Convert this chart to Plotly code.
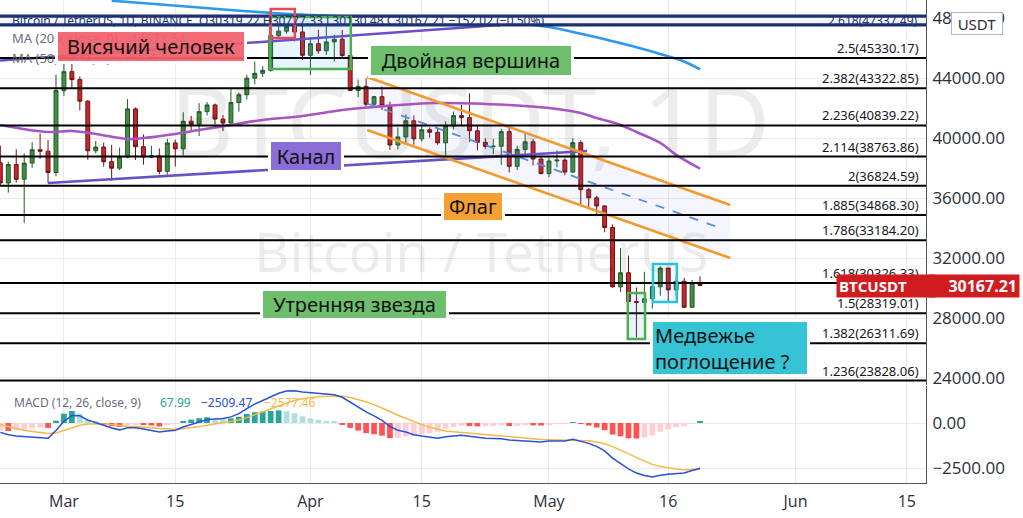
import plotly.graph_objects as go
from plotly.subplots import make_subplots
import pandas as pd

# ---------------- data ----------------
dates = pd.date_range("2022-02-21", "2022-05-20", freq="D")

open_p = [38350, 37000, 38230, 37250, 38328, 39219, 39116, 37699,
          43160, 44421, 43892, 42454, 39148, 39397, 38420, 37988, 38731, 41941,
          39422, 38730, 38807, 37777, 39671, 39280, 41115, 40917, 41757, 42201,
          41262, 41002, 42364, 42882, 43991, 44313, 44511, 46827, 47122, 47434, 47068,
          45511, 46284, 45811, 46407, 46581, 45498, 43171, 43444, 42252, 42754,
          42158, 39531, 40074, 41147, 39942, 40551, 40378, 39678, 40801, 41493,
          41358, 40480, 39709, 39441, 39450, 40426, 38112, 39235, 39742, 38596,
          37630, 38468, 38525, 37728, 39690, 36552, 36013, 35472, 34039, 30077,
          31017, 29103, 29030, 29287, 30086, 31329, 29874, 30445, 28715, 30319.22]
high_p = [39494, 38429, 39249, 38968, 39727, 40300, 39855, 44225,
          44949, 45400, 44101, 42527, 39794, 39693, 39547, 39362, 42594, 42039,
          40236, 39486, 39309, 39947, 39887, 41718, 41478, 42325, 42400, 42296,
          41544, 43361, 43025, 44220, 45094, 44792, 46999, 48190, 48096, 47700, 47600,
          46720, 47213, 47444, 46890, 47200, 45507, 43900, 43970, 42800, 43434,
          42414, 40699, 41561, 41500, 40870, 40709, 40595, 41116, 41760, 42199,
          42976, 40795, 39980, 39940, 40617, 40797, 39474, 40372, 39925, 38795,
          38675, 39167, 38651, 39980, 39845, 36675, 36146, 35510, 34244, 32659,
          32162, 30032, 31083, 30343, 31460, 31329, 30788, 30667, 30545, 30777.33]
low_p = [36800, 36350, 37037, 34322, 38014, 38600, 37000, 37450,
         42809, 43334, 41832, 38550, 38975, 38088, 37155, 37867, 38657, 38539,
         38224, 38660, 37578, 37555, 38098, 38828, 40500, 40135, 41499, 40911,
         40467, 40875, 41751, 42560, 43579, 44071, 44422, 46665, 46950, 46445, 45200,
         44200, 45620, 45530, 45118, 45353, 43121, 42727, 42107, 42125, 41868,
         39200, 39254, 39588, 39551, 39766, 40019, 39546, 38536, 40571, 40820,
         39751, 39177, 39285, 38929, 38200, 37702, 37869, 38881, 38175, 37578,
         37386, 38052, 37518, 37671, 35571, 35258, 34785, 33713, 30033, 29730,
         27785, 26700, 28751, 28630, 29480, 29087, 29450, 28654, 28693, 30130.48]
close_p = [37000, 38230, 37250, 38328, 39219, 39116, 37699, 43160,
           44421, 43892, 42454, 39148, 39397, 38420, 37988, 38731, 41941, 39422,
           38730, 38807, 37777, 39671, 39280, 41115, 40917, 41757, 42201, 41262,
           41002, 42364, 42882, 43991, 44313, 44511, 46827, 47122, 47434, 47068, 45511,
           46284, 45811, 46407, 46581, 45498, 43171, 43444, 42252, 42754, 42158,
           39531, 40074, 41147, 39942, 40551, 40378, 39678, 40801, 41493, 41358,
           40480, 39709, 39441, 39450, 40426, 38112, 39235, 39742, 38596, 37630,
           38468, 38525, 37728, 39690, 36552, 36013, 35472, 34039, 30077, 31017,
           29103, 29030, 29287, 30086, 31329, 29874, 30445, 28715, 30319.22, 30167.21]

ma200_dates = ["2022-03-07", "2022-03-12", "2022-03-18", "2022-03-24", "2022-03-30",
               "2022-04-06", "2022-04-13", "2022-04-20", "2022-04-27", "2022-05-01",
               "2022-05-05", "2022-05-09", "2022-05-12", "2022-05-15", "2022-05-18", "2022-05-20"]
ma200_vals = [49150, 48950, 48700, 48450, 48250, 48100, 47950, 47800, 47620, 47400,
              46950, 46450, 46050, 45600, 45100, 44571.54]

ma50_dates = ["2022-02-21", "2022-02-27", "2022-03-02", "2022-03-05", "2022-03-09",
              "2022-03-11", "2022-03-15", "2022-03-18", "2022-03-22", "2022-03-26",
              "2022-03-31", "2022-04-05", "2022-04-09", "2022-04-17", "2022-04-26",
              "2022-05-01", "2022-05-05", "2022-05-07", "2022-05-10", "2022-05-12",
              "2022-05-15", "2022-05-17", "2022-05-20"]
ma50_vals = [40870, 40400, 40470, 40270, 39930, 40000, 40270, 40530, 40870, 41200,
             41470, 41870, 42070, 42330, 42200, 42000, 41670, 41330, 40870, 40400,
             39670, 38870, 37951.02]

macd_line = [-520, -650, -720, -750, -760, -780, -850, -420,
             100, 420, 400, 160, 30, -120, -280, -380, -260, -260, -330, -400,
             -500, -450, -400, -220, -80, 70, 200, 220, 250, 340, 520, 800, 1050,
             1250, 1450, 1650, 1780, 1790, 1720,
             1680, 1640, 1610, 1570, 1430, 1150, 900, 620, 400, 150, -200, -400,
             -500, -650, -720, -800, -840, -760, -700, -680, -740, -800, -840,
             -860, -880, -950, -980, -970, -1010, -1050,
             -1000, -990, -1000, -900, -1000, -1130, -1300, -1550, -1950, -2230,
             -2550, -2780, -2920, -3000, -2900, -2850, -2800, -2780, -2640, -2509.47]
macd_signal = [-100, -210, -310, -400, -470, -530, -580, -550,
               -420, -250, -120, -60, -40, -60, -100, -160, -180, -200, -220, -260,
               -310, -340, -350, -320, -270, -200, -120, -50, 10, 80, 170, 300, 450,
               610, 780, 950, 1120, 1250, 1350,
               1420, 1460, 1490, 1510, 1490, 1420, 1320, 1180, 1020, 850, 640, 430,
               250, 70, -90, -230, -350, -440, -490, -530, -570, -610, -660,
               -700, -740, -780, -820, -850, -880, -910,
               -930, -940, -950, -940, -950, -990, -1050, -1150, -1310, -1490,
               -1700, -1920, -2120, -2300, -2420, -2500, -2560, -2600, -2590, -2577.46]
macd_hist = [-420, -440, -410, -350, -290, -250, -270, 130,
             520, 670, 520, 220, 70, -60, -180, -220, -80, -60, -110, -140,
             -190, -110, -50, 100, 190, 270, 320, 270, 240, 260, 350, 500, 600,
             640, 670, 700, 660, 540, 370,
             260, 180, 120, 60, -60, -270, -420, -560, -620, -700, -840, -830,
             -750, -720, -630, -570, -490, -320, -210, -150, -170, -190, -180,
             -160, -140, -170, -160, -120, -130, -140,
             -70, -50, -50, 40, -50, -140, -250, -400, -640, -740,
             -850, -860, -800, -700, -480, -350, -240, -180, -50, 67.99]

fib_ratios = ["2.618", "2.5", "2.382", "2.236", "2.114", "2", "1.885", "1.786",
              "1.618", "1.5", "1.382", "1.236"]
fib_prices = [47337.49, 45330.17, 43322.85, 40839.22, 38763.86, 36824.59, 34868.30,
              33184.20, 30326.33, 28319.01, 26311.69, 23828.06]

price_ticks = [24000, 28000, 32000, 36000, 40000, 44000, 48000]
macd_ticks = [0, -2500]
macd_tick_labels = ["0.00", "\u22122500.00"]
date_ticks = ["2022-03-01", "2022-03-15", "2022-04-01", "2022-04-15",
              "2022-05-01", "2022-05-16", "2022-06-01", "2022-06-15"]
date_tick_labels = ["Mar", "15", "Apr", "15", "May", "16", "Jun", "15"]

# drawn lines (date, price)
channel_low = (["2022-02-27 00:00", "2022-05-05 19:00"], [37000, 39133])
channel_up = (["2022-02-20 23:00", "2022-04-24 20:00"], [45167, 47533])
flag_up = (["2022-04-08 03:00", "2022-05-23 19:00"], [44067, 35533])
flag_low = (["2022-04-08 03:00", "2022-05-23 19:00"], [40533, 32000])
flag_mid = (["2022-04-08 03:00", "2022-05-22 07:00"], [42300, 34047])

# ---------------- layout constants ----------------
PW, PH = 926, 483
X_RANGE = ["2022-02-20 23:00", "2022-06-17 10:00"]
Y_RANGE = [23533, 49200]
M_RANGE = [-3333, 2056]
FONT = "Noto Sans"
AXFONT = "Open Sans"


def px(xp):
    return xp / PW


def py(yp):
    return (PH - yp) / PH


def price_at(yp):
    return 44000 - (yp - 78) / 0.015


fig = make_subplots(rows=2, cols=1, shared_xaxes=True, vertical_spacing=0.005)

# watermark (behind everything)
fig.add_trace(go.Scatter(x=["2022-04-21 02:00"], y=[40330], mode="text", text=["BTCUSDT, 1D"],
                         textfont=dict(size=98, color="rgba(0,0,0,0.075)", family=FONT),
                         hoverinfo="skip", showlegend=False), row=1, col=1)
fig.add_trace(go.Scatter(x=["2022-04-22 12:00"], y=[32000], mode="text", text=["Bitcoin / TetherUS"],
                         textfont=dict(size=54, color="rgba(0,0,0,0.075)", family=FONT),
                         hoverinfo="skip", showlegend=False), row=1, col=1)

# flag fill
fig.add_trace(go.Scatter(x=[flag_up[0][0], flag_up[0][1], flag_low[0][1], flag_low[0][0]],
                         y=[flag_up[1][0], flag_up[1][1], flag_low[1][1], flag_low[1][0]],
                         fill="toself", fillcolor="rgba(100,110,220,0.07)", mode="lines",
                         line=dict(width=0), hoverinfo="skip", showlegend=False), row=1, col=1)

# candles
fig.add_trace(go.Candlestick(x=dates, open=open_p, high=high_p, low=low_p, close=close_p,
                             increasing=dict(line=dict(color="#1F5A22", width=1), fillcolor="#468C46"),
                             decreasing=dict(line=dict(color="#6E1010", width=1), fillcolor="#C4282D"),
                             whiskerwidth=0, showlegend=False), row=1, col=1)

# moving averages
fig.add_trace(go.Scatter(x=ma50_dates, y=ma50_vals, mode="lines", line=dict(color="#A855C2", width=2.6, shape="spline"),
                         showlegend=False, hoverinfo="skip"), row=1, col=1)
fig.add_trace(go.Scatter(x=ma200_dates, y=ma200_vals, mode="lines", line=dict(color="#2E97EE", width=2.6, shape="spline"),
                         showlegend=False, hoverinfo="skip"), row=1, col=1)

# channel / flag lines
for (xs, ys), col, dash in [(channel_low, "#6A4FC6", "solid"), (channel_up, "#6A4FC6", "solid"),
                            (flag_up, "#F39A2E", "solid"), (flag_low, "#F39A2E", "solid"),
                            (flag_mid, "#5A8DE0", "dash")]:
    fig.add_trace(go.Scatter(x=xs, y=ys, mode="lines",
                             line=dict(color=col, width=2.6 if dash == "solid" else 1.8, dash=dash),
                             showlegend=False, hoverinfo="skip"), row=1, col=1)

# MACD
hist_colors = []
for i, v in enumerate(macd_hist):
    prev = macd_hist[i - 1] if i > 0 else v
    if v >= 0:
        hist_colors.append("#26A69A" if v > prev else "#B2DFDB")
    else:
        hist_colors.append("#FF5252" if v < prev else "#FFCDD2")
fig.add_trace(go.Bar(x=dates, y=macd_hist, marker=dict(color=hist_colors, line=dict(width=0)),
                     width=0.72 * 86400000, showlegend=False), row=2, col=1)
fig.add_trace(go.Scatter(x=dates, y=macd_signal, mode="lines", line=dict(color="#F6B847", width=1.5),
                         showlegend=False), row=2, col=1)
fig.add_trace(go.Scatter(x=dates, y=macd_line, mode="lines", line=dict(color="#2850D8", width=1.5),
                         showlegend=False), row=2, col=1)

# ---------------- shapes ----------------
shapes = []
shapes.append(dict(type="rect", xref="x domain", yref="y", x0=0, x1=1, y0=price_at(26.5), y1=price_at(14.5),
                   fillcolor="#1D3170", line=dict(width=0), layer="above"))
shapes.append(dict(type="rect", xref="x domain", yref="y", x0=0, x1=1, y0=price_at(23.3), y1=price_at(17.7),
                   fillcolor="#F4F6FB", line=dict(width=0), layer="above"))
for r, p in zip(fib_ratios[1:], fib_prices[1:]):
    shapes.append(dict(type="line", xref="x domain", yref="y", x0=0, x1=1, y0=p, y1=p,
                       line=dict(color="#000000", width=2), layer="above"))
shapes.append(dict(type="rect", xref="x", yref="y", x0="2022-03-26 22:00", x1="2022-04-06 02:00",
                   y0=price_at(69), y1=price_at(17), fillcolor="rgba(33,150,243,0.10)",
                   line=dict(color="#4CAF50", width=2.5), layer="above"))
shapes.append(dict(type="rect", xref="x", yref="y", x0="2022-03-27 00:00", x1="2022-03-30 01:00",
                   y0=price_at(38), y1=price_at(9), fillcolor="rgba(0,0,0,0)",
                   line=dict(color="#E8485A", width=2.5), layer="above"))
shapes.append(dict(type="rect", xref="x", yref="y", x0="2022-05-10 22:00", x1="2022-05-13 02:00",
                   y0=price_at(339), y1=price_at(293), fillcolor="rgba(33,150,243,0.10)",
                   line=dict(color="#4CAF50", width=2.5), layer="above"))
shapes.append(dict(type="rect", xref="x", yref="y", x0="2022-05-14 02:00", x1="2022-05-17 02:00",
                   y0=price_at(302), y1=price_at(264), fillcolor="rgba(33,150,243,0.06)",
                   line=dict(color="#26C6DA", width=2.5), layer="above"))

# ---------------- annotations ----------------
ann = []


def text(x, y, s, size=12, color="#131722", xanchor="left", yanchor="middle", **kw):
    ann.append(dict(x=x, y=y, xref="paper", yref="paper", text=s, showarrow=False,
                    font=dict(size=size, color=color, family=FONT), xanchor=xanchor, yanchor=yanchor, **kw))


text(px(10), py(20.5), "Bitcoin / TetherUS, 1D, BINANCE&nbsp;&nbsp;O30319.22 H30777.33 L30130.48 C30167.21 \u2212152.02 (\u22120.50%)",
     size=12, color="#1D3170")
text(px(920), py(20.5), "2.618(47337.49)", size=12, color="#1D3170", xanchor="right")
text(px(10), py(38), "MA (200, close, 0)", size=13, color="#6A6D78")
text(px(128), py(38), "44571.54", size=13, color="#2E97EE")
text(px(10), py(58), "MA (50, close, 0)", size=13, color="#6A6D78")
text(px(118), py(58), "37951.02", size=13, color="#A855C2")
text(px(12), py(402), "MACD (12, 26, close, 9)", size=12, color="#6A6D78")
text(px(158), py(402), "67.99", size=12, color="#26A69A")
text(px(199), py(402), "\u22122509.47", size=12, color="#2850D8")
text(px(262), py(402), "\u22122577.46", size=12, color="#F6B847")

for r, p in zip(fib_ratios[1:], fib_prices[1:]):
    ann.append(dict(x=px(921), y=p, xref="paper", yref="y", text=f"{r}({p:.2f})", showarrow=False,
                    font=dict(size=13, color="#131722", family=FONT), xanchor="right", yanchor="bottom", yshift=-1))


def box(cx, cy, s, bg, w, h, size=20, align="center"):
    ann.append(dict(x=px(cx), y=py(cy), xref="paper", yref="paper", text=s, showarrow=False,
                    font=dict(size=size, color="#111111", family=FONT), xanchor="center", yanchor="middle",
                    bgcolor=bg, bordercolor="#FFFFFF", borderwidth=3, borderpad=2, width=w, height=h,
                    align=align))


box(151, 46.5, "Висячий человек", "rgba(242,96,108,0.93)", 182, 25)
box(471, 60.5, "Двойная вершина", "#6DBE6D", 196, 25)
box(306, 156.5, "Канал", "#8B6DD8", 66, 24)
box(473, 206, "Флаг", "#F5A033", 54, 23)
box(354.5, 304, "Утренняя звезда", "#6DBE6D", 179, 23)
box(730, 348, "Медвежье<br>поглощение ?", "#36C3D6", 150, 48, align="left")

ann.append(dict(x=px(836), y=py(286), xref="paper", yref="paper", text="<b>BTCUSDT</b>", showarrow=False,
                font=dict(size=15, color="white", family=AXFONT), xanchor="left", yanchor="middle",
                bgcolor="#D01C1F", borderpad=2, width=94, height=18, align="left"))
ann.append(dict(x=px(928), y=py(286), xref="paper", yref="paper", text="<b>30167.21</b>", showarrow=False,
                font=dict(size=16, color="white", family=AXFONT), xanchor="left", yanchor="middle",
                bgcolor="#D01C1F", borderpad=2, width=86, height=18, align="right"))
ann.append(dict(x=px(977), y=py(23), xref="paper", yref="paper", text="USDT", showarrow=False,
                font=dict(size=15, color="#2A2E39", family=FONT), xanchor="center", yanchor="middle",
                bgcolor="white", bordercolor="#B2B5BE", borderwidth=1, borderpad=2, width=46, height=17))

fig.update_layout(
    width=1023, height=518, margin=dict(l=0, r=97, t=0, b=35),
    paper_bgcolor="white", plot_bgcolor="white", showlegend=False,
    font=dict(family=FONT, color="#131722"),
    shapes=shapes, annotations=ann, bargap=0.2,
    xaxis=dict(range=X_RANGE, tickvals=date_ticks, showticklabels=False, showgrid=True,
               gridcolor="#EBEBEB", zeroline=False, rangeslider=dict(visible=False)),
    xaxis2=dict(range=X_RANGE, tickvals=date_ticks, ticktext=date_tick_labels, showgrid=True,
                gridcolor="#EBEBEB", zeroline=False, showline=True, linecolor="#50535E", linewidth=1,
                tickfont=dict(size=16, color="#2A2E39", family=AXFONT), rangeslider=dict(visible=False),
                ticklabelstandoff=4),
    yaxis=dict(domain=[0.2029, 1], range=Y_RANGE, side="right", tickvals=price_ticks,
               ticktext=[f"{v:.2f}" for v in price_ticks], showgrid=True, gridcolor="#EBEBEB",
               zeroline=False, showline=True, linecolor="#50535E", linewidth=1,
               tickfont=dict(size=17, color="#2A2E39", family=AXFONT), ticklabelstandoff=2),
    yaxis2=dict(domain=[0, 0.2008], range=M_RANGE, side="right", tickvals=macd_ticks,
                ticktext=macd_tick_labels, showgrid=True, gridcolor="#EBEBEB", zeroline=False,
                showline=True, linecolor="#50535E", linewidth=1,
                tickfont=dict(size=17, color="#2A2E39", family=AXFONT), ticklabelstandoff=2),
)

fig.write_html("out.html", config={"displayModeBar": False},
               post_script="document.body.style.margin='0';document.body.style.overflow='hidden';")
